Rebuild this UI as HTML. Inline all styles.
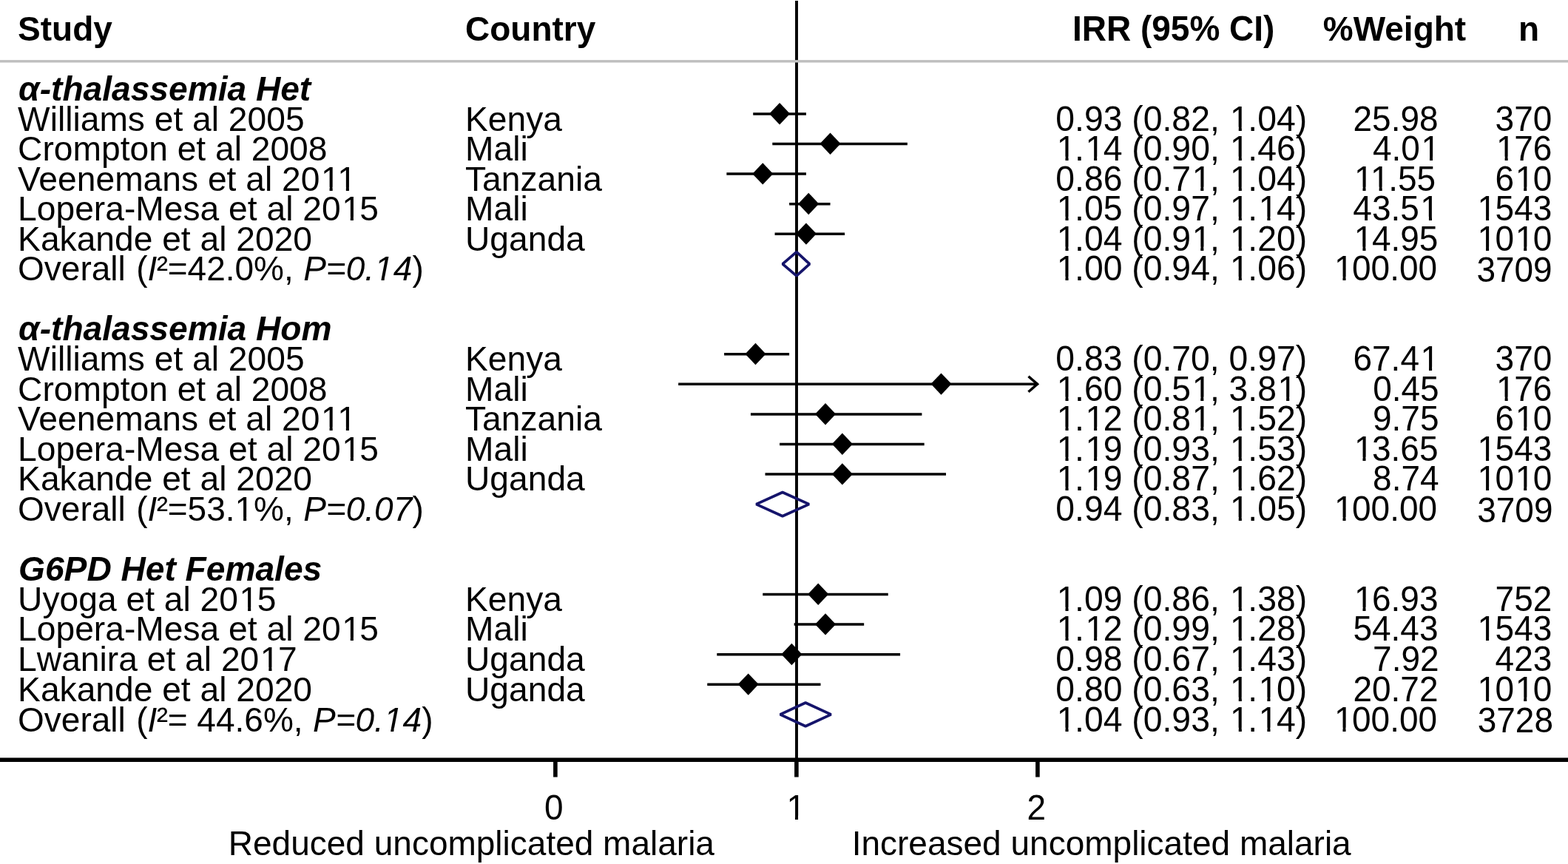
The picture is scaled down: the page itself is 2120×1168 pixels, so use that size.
<!DOCTYPE html>
<html><head><meta charset="utf-8"><title>Forest plot</title><style>
html,body{margin:0;padding:0;background:#fff;overflow:hidden}
svg{display:block}
text{font-family:"Liberation Sans",Arial,Helvetica,sans-serif;fill:#000}
.t{font-size:46px}
.b{font-size:46px;font-weight:bold}
.h{font-size:46px;font-weight:bold;font-style:italic}
.ax{font-size:46px}
.r{text-anchor:end}
.m{text-anchor:middle}
</style></head><body>
<svg width="2120" height="1168" viewBox="0 0 2120 1168">
<rect width="2120" height="1168" fill="#fff"/>
<text class="b" x="24.1" y="54.7">Study</text>
<text class="b" x="629" y="54.7">Country</text>
<text class="b" transform="matrix(1 0 0 1.04 1450 54.7)">IRR (95% CI)</text>
<text class="b" x="1788.8" y="54.7">%Weight</text>
<text class="b" x="2053" y="54.7">n</text>
<rect x="1075.05" y="1" width="3.9" height="1027.2" fill="#000"/>
<rect x="0" y="81.15" width="2120" height="3.4" fill="#bebebe"/>
<rect x="1075.35" y="81.85" width="3.3" height="2" fill="#cecece"/>
<text class="h" transform="matrix(1.003 0 0 1 25.1 135.51)">α-thalassemia Het</text>
<text class="t" transform="matrix(1.004 0 0 1 24.1 176.7)">Williams et al 2005</text>
<text class="t" transform="matrix(1.004 0 0 1 629 176.7)">Kenya</text>
<text class="t" transform="matrix(1.0066 0 0 1.035 1767.1 176.7)" x="-337.5654" dx="0 0 0 0 0 0 0 0 0 0 0 0 1.5 -1.5">0.93 (0.82, 1.04)</text>
<text class="t" transform="matrix(1 0 0 1.035 1944.6 176.7)" x="-115.1123">25.98</text>
<text class="t" transform="matrix(1 0 0 1.035 2098.3 176.7)" x="-76.749">370</text>
<text class="t" transform="matrix(1.004 0 0 1 24.1 216.724)">Crompton et al 2008</text>
<text class="t" transform="matrix(1.004 0 0 1 629 216.724)">Mali</text>
<text class="t" transform="matrix(1.0066 0 0 1.035 1767.1 216.724)" x="-337.5654" dx="1.5 -1.5 1.5 -1.5 0 0 0 0 0 0 0 0 1.5 -1.5">1.14 (0.90, 1.46)</text>
<text class="t" transform="matrix(1 0 0 1.035 1945.5 216.724)" x="-89.5293" dx="0 0 0 1.5">4.01</text>
<text class="t" transform="matrix(1 0 0 1.035 2098.3 216.724)" x="-76.749" dx="1.5 -1.5">176</text>
<text class="t" transform="matrix(1.004 0 0 1 24.1 257.7)" dx="0 0 0 0 0 0 0 0 0 0 0 0 0 0 0 0 0 0 1.5">Veenemans et al 2011</text>
<text class="t" transform="matrix(1.004 0 0 1 629 257.7)">Tanzania</text>
<text class="t" transform="matrix(1.0066 0 0 1.035 1767.1 257.7)" x="-337.5654" dx="0 0 0 0 0 0 0 0 0 1.5 -1.5 0 1.5 -1.5">0.86 (0.71, 1.04)</text>
<text class="t" transform="matrix(1 0 0 1.035 1941.1 257.7)" x="-111.6982" dx="1.5 0 -1.5">11.55</text>
<text class="t" transform="matrix(1 0 0 1.035 2098.3 257.7)" x="-76.749" dx="0 1.5 -1.5">610</text>
<text class="t" transform="matrix(1.004 0 0 1 24.1 297.938)" dx="0 0 0 0 0 0 0 0 0 0 0 0 0 0 0 0 0 0 0 0 1.5 -1.5">Lopera-Mesa et al 2015</text>
<text class="t" transform="matrix(1.004 0 0 1 629 297.938)">Mali</text>
<text class="t" transform="matrix(1.0066 0 0 1.035 1767.1 297.938)" x="-337.5654" dx="1.5 -1.5 0 0 0 0 0 0 0 0 0 0 1.5 -1.5 1.5 -1.5">1.05 (0.97, 1.14)</text>
<text class="t" transform="matrix(1 0 0 1.035 1944.45 297.938)" x="-115.1123" dx="0 0 0 0 1.5">43.51</text>
<text class="t" transform="matrix(1 0 0 1.035 2098.3 297.938)" x="-102.332" dx="1.5 -1.5">1543</text>
<text class="t" transform="matrix(1.004 0 0 1 24.1 338.545)">Kakande et al 2020</text>
<text class="t" transform="matrix(1.004 0 0 1 629 338.545)">Uganda</text>
<text class="t" transform="matrix(1.0066 0 0 1.035 1767.1 338.545)" x="-337.5654" dx="1.5 -1.5 0 0 0 0 0 0 0 1.5 -1.5 0 1.5 -1.5">1.04 (0.91, 1.20)</text>
<text class="t" transform="matrix(1 0 0 1.035 1944.45 338.545)" x="-115.1123" dx="1.5 -1.5">14.95</text>
<text class="t" transform="matrix(1 0 0 1.035 2098.3 338.545)" x="-102.332" dx="1.5 -1.5 1.5 -1.5">1010</text>
<text class="t" x="24.1" y="379.152">Overall <tspan dx="1.7">(</tspan><tspan font-style="italic">I</tspan><tspan dx="-0.7">²</tspan><tspan dx="-0.3">=42.0%, </tspan><tspan font-style="italic" dx="0.6">P=0.14</tspan><tspan dx="0.2">)</tspan></text>
<text class="t" transform="matrix(1.0066 0 0 1.035 1767.1 379.152)" x="-337.5654" dx="1.5 -1.5 0 0 0 0 0 0 0 0 0 0 1.5 -1.5">1.00 (0.94, 1.06)</text>
<text class="t" transform="matrix(1 0 0 1.035 1943.1 379.152)" x="-140.6953" dx="1.5 -1.5">100.00</text>
<text class="t" transform="matrix(1 0 0 1.035 2098.7 381.252)" x="-102.332">3709</text>
<text class="h" transform="matrix(1.003 0 0 1 25.1 460.366)">α-thalassemia Hom</text>
<text class="t" transform="matrix(1.004 0 0 1 24.1 500.973)">Williams et al 2005</text>
<text class="t" transform="matrix(1.004 0 0 1 629 500.973)">Kenya</text>
<text class="t" transform="matrix(1.0066 0 0 1.035 1767.1 500.973)" x="-337.5654">0.83 (0.70, 0.97)</text>
<text class="t" transform="matrix(1 0 0 1.035 1944.55 500.973)" x="-115.1123" dx="0 0 0 0 1.5">67.41</text>
<text class="t" transform="matrix(1 0 0 1.035 2098.3 500.973)" x="-76.749">370</text>
<text class="t" transform="matrix(1.004 0 0 1 24.1 541.58)">Crompton et al 2008</text>
<text class="t" transform="matrix(1.004 0 0 1 629 541.58)">Mali</text>
<text class="t" transform="matrix(1.0066 0 0 1.035 1767.1 541.58)" x="-337.5654" dx="1.5 -1.5 0 0 0 0 0 0 0 1.5 -1.5 0 0 0 0 1.5 -1.5">1.60 (0.51, 3.81)</text>
<text class="t" transform="matrix(1 0 0 1.035 1945.7 541.58)" x="-89.5293">0.45</text>
<text class="t" transform="matrix(1 0 0 1.035 2098.3 541.58)" x="-76.749" dx="1.5 -1.5">176</text>
<text class="t" transform="matrix(1.004 0 0 1 24.1 582.187)" dx="0 0 0 0 0 0 0 0 0 0 0 0 0 0 0 0 0 0 1.5">Veenemans et al 2011</text>
<text class="t" transform="matrix(1.004 0 0 1 629 582.187)">Tanzania</text>
<text class="t" transform="matrix(1.0066 0 0 1.035 1767.1 582.187)" x="-337.5654" dx="1.5 -1.5 1.5 -1.5 0 0 0 0 0 1.5 -1.5 0 1.5 -1.5">1.12 (0.81, 1.52)</text>
<text class="t" transform="matrix(1 0 0 1.035 1945.5 582.187)" x="-89.5293">9.75</text>
<text class="t" transform="matrix(1 0 0 1.035 2098.3 582.187)" x="-76.749" dx="0 1.5 -1.5">610</text>
<text class="t" transform="matrix(1.004 0 0 1 24.1 622.794)" dx="0 0 0 0 0 0 0 0 0 0 0 0 0 0 0 0 0 0 0 0 1.5 -1.5">Lopera-Mesa et al 2015</text>
<text class="t" transform="matrix(1.004 0 0 1 629 622.794)">Mali</text>
<text class="t" transform="matrix(1.0066 0 0 1.035 1767.1 622.794)" x="-337.5654" dx="1.5 -1.5 1.5 -1.5 0 0 0 0 0 0 0 0 1.5 -1.5">1.19 (0.93, 1.53)</text>
<text class="t" transform="matrix(1 0 0 1.035 1944.5 622.794)" x="-115.1123" dx="1.5 -1.5">13.65</text>
<text class="t" transform="matrix(1 0 0 1.035 2098.3 622.794)" x="-102.332" dx="1.5 -1.5">1543</text>
<text class="t" transform="matrix(1.004 0 0 1 24.1 663.401)">Kakande et al 2020</text>
<text class="t" transform="matrix(1.004 0 0 1 629 663.401)">Uganda</text>
<text class="t" transform="matrix(1.0066 0 0 1.035 1767.1 663.401)" x="-337.5654" dx="1.5 -1.5 1.5 -1.5 0 0 0 0 0 0 0 0 1.5 -1.5">1.19 (0.87, 1.62)</text>
<text class="t" transform="matrix(1 0 0 1.035 1945.6 663.401)" x="-89.5293">8.74</text>
<text class="t" transform="matrix(1 0 0 1.035 2098.3 663.401)" x="-102.332" dx="1.5 -1.5 1.5 -1.5">1010</text>
<text class="t" x="24.1" y="704.008">Overall <tspan dx="1.7">(</tspan><tspan font-style="italic">I</tspan><tspan dx="-0.7">²</tspan><tspan dx="-0.3">=53.1%, </tspan><tspan font-style="italic" dx="0.6">P=0.07</tspan><tspan dx="0.2">)</tspan></text>
<text class="t" transform="matrix(1.0066 0 0 1.035 1767.1 704.008)" x="-337.5654" dx="0 0 0 0 0 0 0 0 0 0 0 0 1.5 -1.5">0.94 (0.83, 1.05)</text>
<text class="t" transform="matrix(1 0 0 1.035 1943.1 704.008)" x="-140.6953" dx="1.5 -1.5">100.00</text>
<text class="t" transform="matrix(1 0 0 1.035 2099.5 706.108)" x="-102.332">3709</text>
<text class="h" transform="matrix(1.003 0 0 1 25.1 785.222)">G6PD Het Females</text>
<text class="t" transform="matrix(1.004 0 0 1 24.1 825.829)" dx="0 0 0 0 0 0 0 0 0 0 0 0 0 0 1.5 -1.5">Uyoga et al 2015</text>
<text class="t" transform="matrix(1.004 0 0 1 629 825.829)">Kenya</text>
<text class="t" transform="matrix(1.0066 0 0 1.035 1767.1 825.829)" x="-337.5654" dx="1.5 -1.5 0 0 0 0 0 0 0 0 0 0 1.5 -1.5">1.09 (0.86, 1.38)</text>
<text class="t" transform="matrix(1 0 0 1.035 1944.5 825.829)" x="-115.1123" dx="1.5 -1.5">16.93</text>
<text class="t" transform="matrix(1 0 0 1.035 2098.3 825.829)" x="-76.749">752</text>
<text class="t" transform="matrix(1.004 0 0 1 24.1 866.436)" dx="0 0 0 0 0 0 0 0 0 0 0 0 0 0 0 0 0 0 0 0 1.5 -1.5">Lopera-Mesa et al 2015</text>
<text class="t" transform="matrix(1.004 0 0 1 629 866.436)">Mali</text>
<text class="t" transform="matrix(1.0066 0 0 1.035 1767.1 866.436)" x="-337.5654" dx="1.5 -1.5 1.5 -1.5 0 0 0 0 0 0 0 0 1.5 -1.5">1.12 (0.99, 1.28)</text>
<text class="t" transform="matrix(1 0 0 1.035 1944.5 866.436)" x="-115.1123">54.43</text>
<text class="t" transform="matrix(1 0 0 1.035 2098.3 866.436)" x="-102.332" dx="1.5 -1.5">1543</text>
<text class="t" transform="matrix(1.004 0 0 1 24.1 907.043)" dx="0 0 0 0 0 0 0 0 0 0 0 0 0 0 0 0 1.5 -1.5">Lwanira et al 2017</text>
<text class="t" transform="matrix(1.004 0 0 1 629 907.043)">Uganda</text>
<text class="t" transform="matrix(1.0066 0 0 1.035 1767.1 907.043)" x="-337.5654" dx="0 0 0 0 0 0 0 0 0 0 0 0 1.5 -1.5">0.98 (0.67, 1.43)</text>
<text class="t" transform="matrix(1 0 0 1.035 1945.6 907.043)" x="-89.5293">7.92</text>
<text class="t" transform="matrix(1 0 0 1.035 2098.3 907.043)" x="-76.749">423</text>
<text class="t" transform="matrix(1.004 0 0 1 24.1 947.65)">Kakande et al 2020</text>
<text class="t" transform="matrix(1.004 0 0 1 629 947.65)">Uganda</text>
<text class="t" transform="matrix(1.0066 0 0 1.035 1767.1 947.65)" x="-337.5654" dx="0 0 0 0 0 0 0 0 0 0 0 0 1.5 -1.5 1.5 -1.5">0.80 (0.63, 1.10)</text>
<text class="t" transform="matrix(1 0 0 1.035 1944.5 947.65)" x="-115.1123">20.72</text>
<text class="t" transform="matrix(1 0 0 1.035 2098.3 947.65)" x="-102.332" dx="1.5 -1.5 1.5 -1.5">1010</text>
<text class="t" x="24.1" y="988.7">Overall <tspan dx="1.7">(</tspan><tspan font-style="italic">I</tspan><tspan dx="-0.7">²</tspan><tspan dx="-0.3">= 44.6%, </tspan><tspan font-style="italic" dx="0.6">P=0.14</tspan><tspan dx="0.2">)</tspan></text>
<text class="t" transform="matrix(1.0066 0 0 1.035 1767.1 988.7)" x="-337.5654" dx="1.5 -1.5 0 0 0 0 0 0 0 0 0 0 1.5 -1.5 1.5 -1.5">1.04 (0.93, 1.14)</text>
<text class="t" transform="matrix(1 0 0 1.035 1943.1 988.7)" x="-140.6953" dx="1.5 -1.5">100.00</text>
<text class="t" transform="matrix(1 0 0 1.035 2100 989.7)" x="-102.332">3728</text>
<line x1="1018.22" y1="153.9" x2="1089.94" y2="153.9" stroke="#000" stroke-width="3.5"/>
<polygon points="1040.08,153.7 1054.08,139 1068.08,153.7 1054.08,168.4" fill="#000"/>
<line x1="1044.3" y1="194.5" x2="1226.86" y2="194.5" stroke="#000" stroke-width="3.5"/>
<polygon points="1108.54,194.3 1122.54,179.6 1136.54,194.3 1122.54,209" fill="#000"/>
<line x1="982.36" y1="235.1" x2="1089.94" y2="235.1" stroke="#000" stroke-width="3.5"/>
<polygon points="1017.26,234.9 1031.26,220.2 1045.26,234.9 1031.26,249.6" fill="#000"/>
<line x1="1067.12" y1="275.7" x2="1122.54" y2="275.7" stroke="#000" stroke-width="3.5"/>
<polygon points="1079.2,275.5 1093.2,260.8 1107.2,275.5 1093.2,290.2" fill="#000"/>
<line x1="1047.56" y1="316.3" x2="1142.1" y2="316.3" stroke="#000" stroke-width="3.5"/>
<polygon points="1075.94,316.1 1089.94,301.4 1103.94,316.1 1089.94,330.8" fill="#000"/>
<line x1="979.1" y1="478.7" x2="1067.12" y2="478.7" stroke="#000" stroke-width="3.5"/>
<polygon points="1007.48,478.5 1021.48,463.8 1035.48,478.5 1021.48,493.2" fill="#000"/>
<line x1="917.16" y1="519.3" x2="1403.5" y2="519.3" stroke="#000" stroke-width="3.5"/>
<polyline points="1390.5,508.8 1402.5,519.3 1390.5,529.8" fill="none" stroke="#000" stroke-width="3.5" stroke-linejoin="miter"/>
<polygon points="1258.5,519.1 1272.5,504.4 1286.5,519.1 1272.5,533.8" fill="#000"/>
<line x1="1014.96" y1="559.9" x2="1246.42" y2="559.9" stroke="#000" stroke-width="3.5"/>
<polygon points="1102.02,559.7 1116.02,545 1130.02,559.7 1116.02,574.4" fill="#000"/>
<line x1="1054.08" y1="600.5" x2="1249.68" y2="600.5" stroke="#000" stroke-width="3.5"/>
<polygon points="1124.84,600.3 1138.84,585.6 1152.84,600.3 1138.84,615" fill="#000"/>
<line x1="1034.52" y1="641.1" x2="1279.02" y2="641.1" stroke="#000" stroke-width="3.5"/>
<polygon points="1124.84,640.9 1138.84,626.2 1152.84,640.9 1138.84,655.6" fill="#000"/>
<line x1="1031.26" y1="803.5" x2="1200.78" y2="803.5" stroke="#000" stroke-width="3.5"/>
<polygon points="1092.24,803.3 1106.24,788.6 1120.24,803.3 1106.24,818" fill="#000"/>
<line x1="1073.64" y1="844.1" x2="1168.18" y2="844.1" stroke="#000" stroke-width="3.5"/>
<polygon points="1102.02,843.9 1116.02,829.2 1130.02,843.9 1116.02,858.6" fill="#000"/>
<line x1="969.32" y1="884.7" x2="1217.08" y2="884.7" stroke="#000" stroke-width="3.5"/>
<polygon points="1056.38,884.5 1070.38,869.8 1084.38,884.5 1070.38,899.2" fill="#000"/>
<line x1="956.28" y1="925.3" x2="1109.5" y2="925.3" stroke="#000" stroke-width="3.5"/>
<polygon points="997.7,925.1 1011.7,910.4 1025.7,925.1 1011.7,939.8" fill="#000"/>
<polygon points="1058.1,356.8 1076.9,340.7 1094.6,356.8 1076.9,372.9" fill="none" stroke="#15146b" stroke-width="3.7" stroke-linejoin="bevel"/>
<polygon points="1022.4,681.6 1058,665.5 1093.9,681.6 1058,697.7" fill="none" stroke="#15146b" stroke-width="3.7" stroke-linejoin="bevel"/>
<polygon points="1054.8,965.9 1089.1,950 1123.6,965.9 1089.1,981.8" fill="none" stroke="#15146b" stroke-width="3.7" stroke-linejoin="bevel"/>
<rect x="0" y="1024.4" width="2120" height="5.6" fill="#000"/>
<rect x="748.1" y="1027.2" width="5.6" height="23.3" fill="#000"/>
<text class="ax m" transform="matrix(1 0 0 1.035 748.9 1107.6)">0</text>
<rect x="1074.1" y="1027.2" width="5.6" height="23.3" fill="#000"/>
<text class="ax m" transform="matrix(1 0 0 1.035 1076.2 1107.6)">1</text>
<rect x="1400.1" y="1027.2" width="5.6" height="23.3" fill="#000"/>
<text class="ax m" transform="matrix(1 0 0 1.035 1401.2 1107.6)">2</text>
<text class="ax" x="308.8" y="1155.9">Reduced uncomplicated malaria</text>
<text class="ax" x="1151.7" y="1155.9">Increased uncomplicated malaria</text>
<polygon transform="matrix(1.0066 0 0 1.035 1767.1 176.7)" points="-100.70,-4.84 -91.74,-4.84 -91.74,1.00 -100.70,1.00" fill="#fff"/>
<polygon transform="matrix(1.0066 0 0 1.035 1767.1 176.7)" points="-87.67,-4.84 -79.07,-4.84 -79.07,1.00 -87.67,1.00" fill="#fff"/>
<polygon transform="matrix(1.0066 0 0 1.035 1767.1 216.724)" points="-333.46,-4.84 -324.50,-4.84 -324.50,1.00 -333.46,1.00" fill="#fff"/>
<polygon transform="matrix(1.0066 0 0 1.035 1767.1 216.724)" points="-320.43,-4.84 -311.83,-4.84 -311.83,1.00 -320.43,1.00" fill="#fff"/>
<polygon transform="matrix(1.0066 0 0 1.035 1767.1 216.724)" points="-295.09,-4.84 -286.13,-4.84 -286.13,1.00 -295.09,1.00" fill="#fff"/>
<polygon transform="matrix(1.0066 0 0 1.035 1767.1 216.724)" points="-282.06,-4.84 -273.46,-4.84 -273.46,1.00 -282.06,1.00" fill="#fff"/>
<polygon transform="matrix(1.0066 0 0 1.035 1767.1 216.724)" points="-100.70,-4.84 -91.74,-4.84 -91.74,1.00 -100.70,1.00" fill="#fff"/>
<polygon transform="matrix(1.0066 0 0 1.035 1767.1 216.724)" points="-87.67,-4.84 -79.07,-4.84 -79.07,1.00 -87.67,1.00" fill="#fff"/>
<polygon transform="matrix(1 0 0 1.035 1945.5 216.724)" points="-21.48,-4.84 -12.51,-4.84 -12.51,1.00 -21.48,1.00" fill="#fff"/>
<polygon transform="matrix(1 0 0 1.035 1945.5 216.724)" points="-8.45,-4.84 0.16,-4.84 0.16,1.00 -8.45,1.00" fill="#fff"/>
<polygon transform="matrix(1 0 0 1.035 2098.3 216.724)" points="-72.65,-4.84 -63.68,-4.84 -63.68,1.00 -72.65,1.00" fill="#fff"/>
<polygon transform="matrix(1 0 0 1.035 2098.3 216.724)" points="-59.62,-4.84 -51.01,-4.84 -51.01,1.00 -59.62,1.00" fill="#fff"/>
<polygon transform="matrix(1.004 0 0 1 24.1 257.7)" points="410.84,-4.84 419.80,-4.84 419.80,1.00 410.84,1.00" fill="#fff"/>
<polygon transform="matrix(1.004 0 0 1 24.1 257.7)" points="423.87,-4.84 432.47,-4.84 432.47,1.00 423.87,1.00" fill="#fff"/>
<polygon transform="matrix(1.004 0 0 1 24.1 257.7)" points="433.00,-4.84 441.96,-4.84 441.96,1.00 433.00,1.00" fill="#fff"/>
<polygon transform="matrix(1.004 0 0 1 24.1 257.7)" points="446.02,-4.84 454.63,-4.84 454.63,1.00 446.02,1.00" fill="#fff"/>
<polygon transform="matrix(1.0066 0 0 1.035 1767.1 257.7)" points="-151.85,-4.84 -142.89,-4.84 -142.89,1.00 -151.85,1.00" fill="#fff"/>
<polygon transform="matrix(1.0066 0 0 1.035 1767.1 257.7)" points="-138.82,-4.84 -130.22,-4.84 -130.22,1.00 -138.82,1.00" fill="#fff"/>
<polygon transform="matrix(1.0066 0 0 1.035 1767.1 257.7)" points="-100.70,-4.84 -91.74,-4.84 -91.74,1.00 -100.70,1.00" fill="#fff"/>
<polygon transform="matrix(1.0066 0 0 1.035 1767.1 257.7)" points="-87.67,-4.84 -79.07,-4.84 -79.07,1.00 -87.67,1.00" fill="#fff"/>
<polygon transform="matrix(1 0 0 1.035 1941.1 257.7)" points="-107.59,-4.84 -98.63,-4.84 -98.63,1.00 -107.59,1.00" fill="#fff"/>
<polygon transform="matrix(1 0 0 1.035 1941.1 257.7)" points="-94.57,-4.84 -85.96,-4.84 -85.96,1.00 -94.57,1.00" fill="#fff"/>
<polygon transform="matrix(1 0 0 1.035 1941.1 257.7)" points="-85.42,-4.84 -76.46,-4.84 -76.46,1.00 -85.42,1.00" fill="#fff"/>
<polygon transform="matrix(1 0 0 1.035 1941.1 257.7)" points="-72.39,-4.84 -63.79,-4.84 -63.79,1.00 -72.39,1.00" fill="#fff"/>
<polygon transform="matrix(1 0 0 1.035 2098.3 257.7)" points="-47.07,-4.84 -38.10,-4.84 -38.10,1.00 -47.07,1.00" fill="#fff"/>
<polygon transform="matrix(1 0 0 1.035 2098.3 257.7)" points="-34.04,-4.84 -25.43,-4.84 -25.43,1.00 -34.04,1.00" fill="#fff"/>
<polygon transform="matrix(1.004 0 0 1 24.1 297.938)" points="438.94,-4.84 447.90,-4.84 447.90,1.00 438.94,1.00" fill="#fff"/>
<polygon transform="matrix(1.004 0 0 1 24.1 297.938)" points="451.97,-4.84 460.57,-4.84 460.57,1.00 451.97,1.00" fill="#fff"/>
<polygon transform="matrix(1.0066 0 0 1.035 1767.1 297.938)" points="-333.46,-4.84 -324.50,-4.84 -324.50,1.00 -333.46,1.00" fill="#fff"/>
<polygon transform="matrix(1.0066 0 0 1.035 1767.1 297.938)" points="-320.43,-4.84 -311.83,-4.84 -311.83,1.00 -320.43,1.00" fill="#fff"/>
<polygon transform="matrix(1.0066 0 0 1.035 1767.1 297.938)" points="-100.70,-4.84 -91.74,-4.84 -91.74,1.00 -100.70,1.00" fill="#fff"/>
<polygon transform="matrix(1.0066 0 0 1.035 1767.1 297.938)" points="-87.67,-4.84 -79.07,-4.84 -79.07,1.00 -87.67,1.00" fill="#fff"/>
<polygon transform="matrix(1.0066 0 0 1.035 1767.1 297.938)" points="-62.33,-4.84 -53.37,-4.84 -53.37,1.00 -62.33,1.00" fill="#fff"/>
<polygon transform="matrix(1.0066 0 0 1.035 1767.1 297.938)" points="-49.30,-4.84 -40.70,-4.84 -40.70,1.00 -49.30,1.00" fill="#fff"/>
<polygon transform="matrix(1 0 0 1.035 1944.45 297.938)" points="-21.48,-4.84 -12.52,-4.84 -12.52,1.00 -21.48,1.00" fill="#fff"/>
<polygon transform="matrix(1 0 0 1.035 1944.45 297.938)" points="-8.45,-4.84 0.15,-4.84 0.15,1.00 -8.45,1.00" fill="#fff"/>
<polygon transform="matrix(1 0 0 1.035 2098.3 297.938)" points="-98.23,-4.84 -89.26,-4.84 -89.26,1.00 -98.23,1.00" fill="#fff"/>
<polygon transform="matrix(1 0 0 1.035 2098.3 297.938)" points="-85.20,-4.84 -76.60,-4.84 -76.60,1.00 -85.20,1.00" fill="#fff"/>
<polygon transform="matrix(1.0066 0 0 1.035 1767.1 338.545)" points="-333.46,-4.84 -324.50,-4.84 -324.50,1.00 -333.46,1.00" fill="#fff"/>
<polygon transform="matrix(1.0066 0 0 1.035 1767.1 338.545)" points="-320.43,-4.84 -311.83,-4.84 -311.83,1.00 -320.43,1.00" fill="#fff"/>
<polygon transform="matrix(1.0066 0 0 1.035 1767.1 338.545)" points="-151.85,-4.84 -142.89,-4.84 -142.89,1.00 -151.85,1.00" fill="#fff"/>
<polygon transform="matrix(1.0066 0 0 1.035 1767.1 338.545)" points="-138.82,-4.84 -130.22,-4.84 -130.22,1.00 -138.82,1.00" fill="#fff"/>
<polygon transform="matrix(1.0066 0 0 1.035 1767.1 338.545)" points="-100.70,-4.84 -91.74,-4.84 -91.74,1.00 -100.70,1.00" fill="#fff"/>
<polygon transform="matrix(1.0066 0 0 1.035 1767.1 338.545)" points="-87.67,-4.84 -79.07,-4.84 -79.07,1.00 -87.67,1.00" fill="#fff"/>
<polygon transform="matrix(1 0 0 1.035 1944.45 338.545)" points="-111.01,-4.84 -102.04,-4.84 -102.04,1.00 -111.01,1.00" fill="#fff"/>
<polygon transform="matrix(1 0 0 1.035 1944.45 338.545)" points="-97.98,-4.84 -89.38,-4.84 -89.38,1.00 -97.98,1.00" fill="#fff"/>
<polygon transform="matrix(1 0 0 1.035 2098.3 338.545)" points="-98.23,-4.84 -89.26,-4.84 -89.26,1.00 -98.23,1.00" fill="#fff"/>
<polygon transform="matrix(1 0 0 1.035 2098.3 338.545)" points="-85.20,-4.84 -76.60,-4.84 -76.60,1.00 -85.20,1.00" fill="#fff"/>
<polygon transform="matrix(1 0 0 1.035 2098.3 338.545)" points="-47.07,-4.84 -38.11,-4.84 -38.11,1.00 -47.07,1.00" fill="#fff"/>
<polygon transform="matrix(1 0 0 1.035 2098.3 338.545)" points="-34.04,-4.84 -25.44,-4.84 -25.44,1.00 -34.04,1.00" fill="#fff"/>
<polygon points="505.70,380.15 507.16,374.32 516.02,374.32 515.34,380.15" fill="#fff"/>
<polygon points="519.41,380.15 520.08,374.32 529.36,374.32 528.68,380.15" fill="#fff"/>
<polygon transform="matrix(1.0066 0 0 1.035 1767.1 379.152)" points="-333.46,-4.84 -324.50,-4.84 -324.50,1.00 -333.46,1.00" fill="#fff"/>
<polygon transform="matrix(1.0066 0 0 1.035 1767.1 379.152)" points="-320.43,-4.84 -311.83,-4.84 -311.83,1.00 -320.43,1.00" fill="#fff"/>
<polygon transform="matrix(1.0066 0 0 1.035 1767.1 379.152)" points="-100.70,-4.84 -91.74,-4.84 -91.74,1.00 -100.70,1.00" fill="#fff"/>
<polygon transform="matrix(1.0066 0 0 1.035 1767.1 379.152)" points="-87.67,-4.84 -79.07,-4.84 -79.07,1.00 -87.67,1.00" fill="#fff"/>
<polygon transform="matrix(1 0 0 1.035 1943.1 379.152)" points="-136.59,-4.84 -127.63,-4.84 -127.63,1.00 -136.59,1.00" fill="#fff"/>
<polygon transform="matrix(1 0 0 1.035 1943.1 379.152)" points="-123.56,-4.84 -114.96,-4.84 -114.96,1.00 -123.56,1.00" fill="#fff"/>
<polygon transform="matrix(1 0 0 1.035 1944.55 500.973)" points="-21.48,-4.84 -12.52,-4.84 -12.52,1.00 -21.48,1.00" fill="#fff"/>
<polygon transform="matrix(1 0 0 1.035 1944.55 500.973)" points="-8.45,-4.84 0.15,-4.84 0.15,1.00 -8.45,1.00" fill="#fff"/>
<polygon transform="matrix(1.0066 0 0 1.035 1767.1 541.58)" points="-333.46,-4.84 -324.50,-4.84 -324.50,1.00 -333.46,1.00" fill="#fff"/>
<polygon transform="matrix(1.0066 0 0 1.035 1767.1 541.58)" points="-320.43,-4.84 -311.83,-4.84 -311.83,1.00 -320.43,1.00" fill="#fff"/>
<polygon transform="matrix(1.0066 0 0 1.035 1767.1 541.58)" points="-151.85,-4.84 -142.89,-4.84 -142.89,1.00 -151.85,1.00" fill="#fff"/>
<polygon transform="matrix(1.0066 0 0 1.035 1767.1 541.58)" points="-138.82,-4.84 -130.22,-4.84 -130.22,1.00 -138.82,1.00" fill="#fff"/>
<polygon transform="matrix(1.0066 0 0 1.035 1767.1 541.58)" points="-36.74,-4.84 -27.78,-4.84 -27.78,1.00 -36.74,1.00" fill="#fff"/>
<polygon transform="matrix(1.0066 0 0 1.035 1767.1 541.58)" points="-23.71,-4.84 -15.11,-4.84 -15.11,1.00 -23.71,1.00" fill="#fff"/>
<polygon transform="matrix(1 0 0 1.035 2098.3 541.58)" points="-72.65,-4.84 -63.68,-4.84 -63.68,1.00 -72.65,1.00" fill="#fff"/>
<polygon transform="matrix(1 0 0 1.035 2098.3 541.58)" points="-59.62,-4.84 -51.01,-4.84 -51.01,1.00 -59.62,1.00" fill="#fff"/>
<polygon transform="matrix(1.004 0 0 1 24.1 582.187)" points="410.84,-4.84 419.80,-4.84 419.80,1.00 410.84,1.00" fill="#fff"/>
<polygon transform="matrix(1.004 0 0 1 24.1 582.187)" points="423.87,-4.84 432.47,-4.84 432.47,1.00 423.87,1.00" fill="#fff"/>
<polygon transform="matrix(1.004 0 0 1 24.1 582.187)" points="433.00,-4.84 441.96,-4.84 441.96,1.00 433.00,1.00" fill="#fff"/>
<polygon transform="matrix(1.004 0 0 1 24.1 582.187)" points="446.02,-4.84 454.63,-4.84 454.63,1.00 446.02,1.00" fill="#fff"/>
<polygon transform="matrix(1.0066 0 0 1.035 1767.1 582.187)" points="-333.46,-4.84 -324.50,-4.84 -324.50,1.00 -333.46,1.00" fill="#fff"/>
<polygon transform="matrix(1.0066 0 0 1.035 1767.1 582.187)" points="-320.43,-4.84 -311.83,-4.84 -311.83,1.00 -320.43,1.00" fill="#fff"/>
<polygon transform="matrix(1.0066 0 0 1.035 1767.1 582.187)" points="-295.09,-4.84 -286.13,-4.84 -286.13,1.00 -295.09,1.00" fill="#fff"/>
<polygon transform="matrix(1.0066 0 0 1.035 1767.1 582.187)" points="-282.06,-4.84 -273.46,-4.84 -273.46,1.00 -282.06,1.00" fill="#fff"/>
<polygon transform="matrix(1.0066 0 0 1.035 1767.1 582.187)" points="-151.85,-4.84 -142.89,-4.84 -142.89,1.00 -151.85,1.00" fill="#fff"/>
<polygon transform="matrix(1.0066 0 0 1.035 1767.1 582.187)" points="-138.82,-4.84 -130.22,-4.84 -130.22,1.00 -138.82,1.00" fill="#fff"/>
<polygon transform="matrix(1.0066 0 0 1.035 1767.1 582.187)" points="-100.70,-4.84 -91.74,-4.84 -91.74,1.00 -100.70,1.00" fill="#fff"/>
<polygon transform="matrix(1.0066 0 0 1.035 1767.1 582.187)" points="-87.67,-4.84 -79.07,-4.84 -79.07,1.00 -87.67,1.00" fill="#fff"/>
<polygon transform="matrix(1 0 0 1.035 2098.3 582.187)" points="-47.07,-4.84 -38.10,-4.84 -38.10,1.00 -47.07,1.00" fill="#fff"/>
<polygon transform="matrix(1 0 0 1.035 2098.3 582.187)" points="-34.04,-4.84 -25.43,-4.84 -25.43,1.00 -34.04,1.00" fill="#fff"/>
<polygon transform="matrix(1.004 0 0 1 24.1 622.794)" points="438.94,-4.84 447.90,-4.84 447.90,1.00 438.94,1.00" fill="#fff"/>
<polygon transform="matrix(1.004 0 0 1 24.1 622.794)" points="451.97,-4.84 460.57,-4.84 460.57,1.00 451.97,1.00" fill="#fff"/>
<polygon transform="matrix(1.0066 0 0 1.035 1767.1 622.794)" points="-333.46,-4.84 -324.50,-4.84 -324.50,1.00 -333.46,1.00" fill="#fff"/>
<polygon transform="matrix(1.0066 0 0 1.035 1767.1 622.794)" points="-320.43,-4.84 -311.83,-4.84 -311.83,1.00 -320.43,1.00" fill="#fff"/>
<polygon transform="matrix(1.0066 0 0 1.035 1767.1 622.794)" points="-295.09,-4.84 -286.13,-4.84 -286.13,1.00 -295.09,1.00" fill="#fff"/>
<polygon transform="matrix(1.0066 0 0 1.035 1767.1 622.794)" points="-282.06,-4.84 -273.46,-4.84 -273.46,1.00 -282.06,1.00" fill="#fff"/>
<polygon transform="matrix(1.0066 0 0 1.035 1767.1 622.794)" points="-100.70,-4.84 -91.74,-4.84 -91.74,1.00 -100.70,1.00" fill="#fff"/>
<polygon transform="matrix(1.0066 0 0 1.035 1767.1 622.794)" points="-87.67,-4.84 -79.07,-4.84 -79.07,1.00 -87.67,1.00" fill="#fff"/>
<polygon transform="matrix(1 0 0 1.035 1944.5 622.794)" points="-111.01,-4.84 -102.04,-4.84 -102.04,1.00 -111.01,1.00" fill="#fff"/>
<polygon transform="matrix(1 0 0 1.035 1944.5 622.794)" points="-97.98,-4.84 -89.38,-4.84 -89.38,1.00 -97.98,1.00" fill="#fff"/>
<polygon transform="matrix(1 0 0 1.035 2098.3 622.794)" points="-98.23,-4.84 -89.26,-4.84 -89.26,1.00 -98.23,1.00" fill="#fff"/>
<polygon transform="matrix(1 0 0 1.035 2098.3 622.794)" points="-85.20,-4.84 -76.60,-4.84 -76.60,1.00 -85.20,1.00" fill="#fff"/>
<polygon transform="matrix(1.0066 0 0 1.035 1767.1 663.401)" points="-333.46,-4.84 -324.50,-4.84 -324.50,1.00 -333.46,1.00" fill="#fff"/>
<polygon transform="matrix(1.0066 0 0 1.035 1767.1 663.401)" points="-320.43,-4.84 -311.83,-4.84 -311.83,1.00 -320.43,1.00" fill="#fff"/>
<polygon transform="matrix(1.0066 0 0 1.035 1767.1 663.401)" points="-295.09,-4.84 -286.13,-4.84 -286.13,1.00 -295.09,1.00" fill="#fff"/>
<polygon transform="matrix(1.0066 0 0 1.035 1767.1 663.401)" points="-282.06,-4.84 -273.46,-4.84 -273.46,1.00 -282.06,1.00" fill="#fff"/>
<polygon transform="matrix(1.0066 0 0 1.035 1767.1 663.401)" points="-100.70,-4.84 -91.74,-4.84 -91.74,1.00 -100.70,1.00" fill="#fff"/>
<polygon transform="matrix(1.0066 0 0 1.035 1767.1 663.401)" points="-87.67,-4.84 -79.07,-4.84 -79.07,1.00 -87.67,1.00" fill="#fff"/>
<polygon transform="matrix(1 0 0 1.035 2098.3 663.401)" points="-98.23,-4.84 -89.26,-4.84 -89.26,1.00 -98.23,1.00" fill="#fff"/>
<polygon transform="matrix(1 0 0 1.035 2098.3 663.401)" points="-85.20,-4.84 -76.60,-4.84 -76.60,1.00 -85.20,1.00" fill="#fff"/>
<polygon transform="matrix(1 0 0 1.035 2098.3 663.401)" points="-47.07,-4.84 -38.11,-4.84 -38.11,1.00 -47.07,1.00" fill="#fff"/>
<polygon transform="matrix(1 0 0 1.035 2098.3 663.401)" points="-34.04,-4.84 -25.44,-4.84 -25.44,1.00 -34.04,1.00" fill="#fff"/>
<polygon points="320.12,699.17 329.09,699.17 329.09,705.01 320.12,705.01" fill="#fff"/>
<polygon points="333.15,699.17 341.76,699.17 341.76,705.01 333.15,705.01" fill="#fff"/>
<polygon transform="matrix(1.0066 0 0 1.035 1767.1 704.008)" points="-100.70,-4.84 -91.74,-4.84 -91.74,1.00 -100.70,1.00" fill="#fff"/>
<polygon transform="matrix(1.0066 0 0 1.035 1767.1 704.008)" points="-87.67,-4.84 -79.07,-4.84 -79.07,1.00 -87.67,1.00" fill="#fff"/>
<polygon transform="matrix(1 0 0 1.035 1943.1 704.008)" points="-136.59,-4.84 -127.63,-4.84 -127.63,1.00 -136.59,1.00" fill="#fff"/>
<polygon transform="matrix(1 0 0 1.035 1943.1 704.008)" points="-123.56,-4.84 -114.96,-4.84 -114.96,1.00 -123.56,1.00" fill="#fff"/>
<polygon transform="matrix(1.004 0 0 1 24.1 825.829)" points="300.82,-4.84 309.79,-4.84 309.79,1.00 300.82,1.00" fill="#fff"/>
<polygon transform="matrix(1.004 0 0 1 24.1 825.829)" points="313.85,-4.84 322.46,-4.84 322.46,1.00 313.85,1.00" fill="#fff"/>
<polygon transform="matrix(1.0066 0 0 1.035 1767.1 825.829)" points="-333.46,-4.84 -324.50,-4.84 -324.50,1.00 -333.46,1.00" fill="#fff"/>
<polygon transform="matrix(1.0066 0 0 1.035 1767.1 825.829)" points="-320.43,-4.84 -311.83,-4.84 -311.83,1.00 -320.43,1.00" fill="#fff"/>
<polygon transform="matrix(1.0066 0 0 1.035 1767.1 825.829)" points="-100.70,-4.84 -91.74,-4.84 -91.74,1.00 -100.70,1.00" fill="#fff"/>
<polygon transform="matrix(1.0066 0 0 1.035 1767.1 825.829)" points="-87.67,-4.84 -79.07,-4.84 -79.07,1.00 -87.67,1.00" fill="#fff"/>
<polygon transform="matrix(1 0 0 1.035 1944.5 825.829)" points="-111.01,-4.84 -102.04,-4.84 -102.04,1.00 -111.01,1.00" fill="#fff"/>
<polygon transform="matrix(1 0 0 1.035 1944.5 825.829)" points="-97.98,-4.84 -89.38,-4.84 -89.38,1.00 -97.98,1.00" fill="#fff"/>
<polygon transform="matrix(1.004 0 0 1 24.1 866.436)" points="438.94,-4.84 447.90,-4.84 447.90,1.00 438.94,1.00" fill="#fff"/>
<polygon transform="matrix(1.004 0 0 1 24.1 866.436)" points="451.97,-4.84 460.57,-4.84 460.57,1.00 451.97,1.00" fill="#fff"/>
<polygon transform="matrix(1.0066 0 0 1.035 1767.1 866.436)" points="-333.46,-4.84 -324.50,-4.84 -324.50,1.00 -333.46,1.00" fill="#fff"/>
<polygon transform="matrix(1.0066 0 0 1.035 1767.1 866.436)" points="-320.43,-4.84 -311.83,-4.84 -311.83,1.00 -320.43,1.00" fill="#fff"/>
<polygon transform="matrix(1.0066 0 0 1.035 1767.1 866.436)" points="-295.09,-4.84 -286.13,-4.84 -286.13,1.00 -295.09,1.00" fill="#fff"/>
<polygon transform="matrix(1.0066 0 0 1.035 1767.1 866.436)" points="-282.06,-4.84 -273.46,-4.84 -273.46,1.00 -282.06,1.00" fill="#fff"/>
<polygon transform="matrix(1.0066 0 0 1.035 1767.1 866.436)" points="-100.70,-4.84 -91.74,-4.84 -91.74,1.00 -100.70,1.00" fill="#fff"/>
<polygon transform="matrix(1.0066 0 0 1.035 1767.1 866.436)" points="-87.67,-4.84 -79.07,-4.84 -79.07,1.00 -87.67,1.00" fill="#fff"/>
<polygon transform="matrix(1 0 0 1.035 2098.3 866.436)" points="-98.23,-4.84 -89.26,-4.84 -89.26,1.00 -98.23,1.00" fill="#fff"/>
<polygon transform="matrix(1 0 0 1.035 2098.3 866.436)" points="-85.20,-4.84 -76.60,-4.84 -76.60,1.00 -85.20,1.00" fill="#fff"/>
<polygon transform="matrix(1.004 0 0 1 24.1 907.043)" points="328.97,-4.84 337.93,-4.84 337.93,1.00 328.97,1.00" fill="#fff"/>
<polygon transform="matrix(1.004 0 0 1 24.1 907.043)" points="342.00,-4.84 350.60,-4.84 350.60,1.00 342.00,1.00" fill="#fff"/>
<polygon transform="matrix(1.0066 0 0 1.035 1767.1 907.043)" points="-100.70,-4.84 -91.74,-4.84 -91.74,1.00 -100.70,1.00" fill="#fff"/>
<polygon transform="matrix(1.0066 0 0 1.035 1767.1 907.043)" points="-87.67,-4.84 -79.07,-4.84 -79.07,1.00 -87.67,1.00" fill="#fff"/>
<polygon transform="matrix(1.0066 0 0 1.035 1767.1 947.65)" points="-100.70,-4.84 -91.74,-4.84 -91.74,1.00 -100.70,1.00" fill="#fff"/>
<polygon transform="matrix(1.0066 0 0 1.035 1767.1 947.65)" points="-87.67,-4.84 -79.07,-4.84 -79.07,1.00 -87.67,1.00" fill="#fff"/>
<polygon transform="matrix(1.0066 0 0 1.035 1767.1 947.65)" points="-62.33,-4.84 -53.37,-4.84 -53.37,1.00 -62.33,1.00" fill="#fff"/>
<polygon transform="matrix(1.0066 0 0 1.035 1767.1 947.65)" points="-49.30,-4.84 -40.70,-4.84 -40.70,1.00 -49.30,1.00" fill="#fff"/>
<polygon transform="matrix(1 0 0 1.035 2098.3 947.65)" points="-98.23,-4.84 -89.26,-4.84 -89.26,1.00 -98.23,1.00" fill="#fff"/>
<polygon transform="matrix(1 0 0 1.035 2098.3 947.65)" points="-85.20,-4.84 -76.60,-4.84 -76.60,1.00 -85.20,1.00" fill="#fff"/>
<polygon transform="matrix(1 0 0 1.035 2098.3 947.65)" points="-47.07,-4.84 -38.11,-4.84 -38.11,1.00 -47.07,1.00" fill="#fff"/>
<polygon transform="matrix(1 0 0 1.035 2098.3 947.65)" points="-34.04,-4.84 -25.44,-4.84 -25.44,1.00 -34.04,1.00" fill="#fff"/>
<polygon points="518.49,989.70 519.95,983.86 528.80,983.86 528.12,989.70" fill="#fff"/>
<polygon points="532.19,989.70 532.86,983.86 542.14,983.86 541.47,989.70" fill="#fff"/>
<polygon transform="matrix(1.0066 0 0 1.035 1767.1 988.7)" points="-333.46,-4.84 -324.50,-4.84 -324.50,1.00 -333.46,1.00" fill="#fff"/>
<polygon transform="matrix(1.0066 0 0 1.035 1767.1 988.7)" points="-320.43,-4.84 -311.83,-4.84 -311.83,1.00 -320.43,1.00" fill="#fff"/>
<polygon transform="matrix(1.0066 0 0 1.035 1767.1 988.7)" points="-100.70,-4.84 -91.74,-4.84 -91.74,1.00 -100.70,1.00" fill="#fff"/>
<polygon transform="matrix(1.0066 0 0 1.035 1767.1 988.7)" points="-87.67,-4.84 -79.07,-4.84 -79.07,1.00 -87.67,1.00" fill="#fff"/>
<polygon transform="matrix(1.0066 0 0 1.035 1767.1 988.7)" points="-62.33,-4.84 -53.37,-4.84 -53.37,1.00 -62.33,1.00" fill="#fff"/>
<polygon transform="matrix(1.0066 0 0 1.035 1767.1 988.7)" points="-49.30,-4.84 -40.70,-4.84 -40.70,1.00 -49.30,1.00" fill="#fff"/>
<polygon transform="matrix(1 0 0 1.035 1943.1 988.7)" points="-136.59,-4.84 -127.63,-4.84 -127.63,1.00 -136.59,1.00" fill="#fff"/>
<polygon transform="matrix(1 0 0 1.035 1943.1 988.7)" points="-123.56,-4.84 -114.96,-4.84 -114.96,1.00 -123.56,1.00" fill="#fff"/>
<polygon transform="matrix(1 0 0 1.035 1076.2 1107.6)" points="-10.19,-4.84 -1.22,-4.84 -1.22,1.00 -10.19,1.00" fill="#fff"/>
<polygon transform="matrix(1 0 0 1.035 1076.2 1107.6)" points="2.84,-4.84 11.45,-4.84 11.45,1.00 2.84,1.00" fill="#fff"/>
</svg>
</body></html>
